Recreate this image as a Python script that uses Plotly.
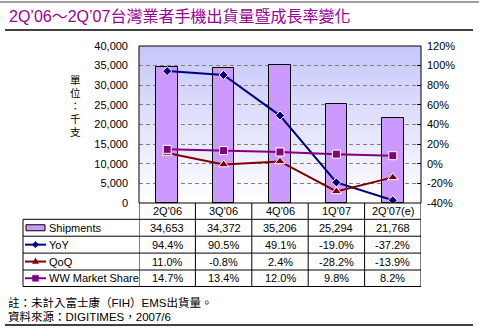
import base64
import struct
import zlib
import plotly.graph_objects as go

# ---- data ----
quarters = ["2Q'06", "3Q'06", "4Q'06", "1Q'07", "2Q'07(e)"]
shipments = [34653, 34372, 35206, 25294, 21768]
yoy = [94.4, 90.5, 49.1, -19.0, -37.2]
qoq = [11.0, -0.8, 2.4, -28.2, -13.9]
ww_share = [14.7, 13.4, 12.0, 9.8, 8.2]
left_ticks = list(range(0, 40001, 5000))
right_ticks = list(range(-40, 121, 20))
right_labels = [f"{v}%" for v in right_ticks]

title_text = "2Q’06～2Q’07台灣業者手機出貨量暨成長率變化"
unit_chars = ["單", "位", "：", "千", "支"]
note_lines = ["註：未計入富士康（FIH）EMS出貨量。", "資料來源：DIGITIMES，2007/6"]

W, H = 479, 330
L, R, T, B = 139, 421, 46, 203
FONT = "Liberation Sans, Arial, Noto Sans CJK TC, sans-serif"

C_BAR = "#cc99ff"
C_YOY = "#000080"
C_QOQ = "#800000"
C_WW = "#800080"


def px(x):
    return (x - L) / (R - L)


def py(y):
    return (B - y) / (B - T)


def gradient_png(top, bottom, n=160):
    """Tiny 1-pixel-wide vertical gradient PNG as a data URI."""
    raw = b""
    for i in range(n):
        t = i / (n - 1)
        rgb = bytes(round(a + (b - a) * t) for a, b in zip(top, bottom))
        raw += b"\x00" + rgb

    def chunk(tag, data):
        c = struct.pack(">I", len(data)) + tag + data
        return c + struct.pack(">I", zlib.crc32(tag + data) & 0xFFFFFFFF)

    png = b"\x89PNG\r\n\x1a\n"
    png += chunk(b"IHDR", struct.pack(">IIBBBBB", 1, n, 8, 2, 0, 0, 0))
    png += chunk(b"IDAT", zlib.compress(raw))
    png += chunk(b"IEND", b"")
    return "data:image/png;base64," + base64.b64encode(png).decode()


fig = go.Figure()
fig.add_trace(go.Bar(x=quarters, y=shipments, width=0.38, marker=dict(color=C_BAR, line=dict(color="black", width=1)),
                     name="Shipments"))
fig.add_trace(go.Scatter(x=quarters, y=yoy, yaxis="y2", mode="lines+markers", name="YoY",
                         line=dict(color=C_YOY, width=2),
                         marker=dict(symbol="diamond", size=7, color=C_YOY, line=dict(color="white", width=1))))
fig.add_trace(go.Scatter(x=quarters, y=qoq, yaxis="y2", mode="lines+markers", name="QoQ",
                         line=dict(color=C_QOQ, width=2),
                         marker=dict(symbol="triangle-up", size=9, color=C_QOQ, line=dict(color="white", width=1))))
fig.add_trace(go.Scatter(x=quarters, y=ww_share, yaxis="y2", mode="lines+markers", name="WW Market Share",
                         line=dict(color=C_WW, width=2),
                         marker=dict(symbol="square", size=8, color=C_WW, line=dict(color="white", width=1))))

src = gradient_png((198, 198, 251), (255, 255, 255))

shapes = []
annotations = []

# header rules
shapes.append(dict(type="line", xref="paper", yref="paper", x0=px(0), x1=px(W), y0=py(2), y1=py(2),
                   line=dict(color="#a0a0a0", width=2)))
for yy in (30, 325):
    shapes.append(dict(type="line", xref="paper", yref="paper", x0=px(5), x1=px(473), y0=py(yy), y1=py(yy),
                       line=dict(color="black", width=1.5)))

# plot frame
shapes.append(dict(type="rect", xref="paper", yref="paper", x0=0, x1=1, y0=0, y1=1,
                   line=dict(color="black", width=1)))

# data table grid
rows = [219.3, 236.2, 253.1, 270.0, 286.5]
for ry in rows:
    shapes.append(dict(type="line", xref="paper", yref="paper", x0=px(23), x1=1, y0=py(ry), y1=py(ry),
                       line=dict(color="black", width=1)))
shapes.append(dict(type="line", xref="paper", yref="paper", x0=px(23), x1=px(23), y0=py(rows[0]), y1=py(rows[-1]),
                   line=dict(color="black", width=1)))
for i in range(len(quarters) + 1):
    shapes.append(dict(type="line", xref="x", yref="paper", x0=i - 0.5, x1=i - 0.5, y0=py(B), y1=py(rows[-1]),
                       line=dict(color="black", width=1)))

# category header
for i, q in enumerate(quarters):
    annotations.append(dict(x=i, y=py(211), xref="x", yref="paper", text=q, showarrow=False,
                            font=dict(size=11, family=FONT, color="black"), xanchor="center", yanchor="middle"))

row_c = [(rows[k] + rows[k + 1]) / 2 for k in range(4)]
table_vals = [
    [f"{v:,}" for v in shipments],
    [f"{v:.1f}%" for v in yoy],
    [f"{v:.1f}%" for v in qoq],
    [f"{v:.1f}%" for v in ww_share],
]
for r, vals in enumerate(table_vals):
    for i, t in enumerate(vals):
        annotations.append(dict(x=i, y=py(row_c[r]), xref="x", yref="paper", text=t, showarrow=False,
                                font=dict(size=11, family=FONT, color="black"), xanchor="center", yanchor="middle"))

# legend keys in the first column
names = ["Shipments", "YoY", "QoQ", "WW Market Share"]
for r, nm in enumerate(names):
    annotations.append(dict(x=px(47), y=py(row_c[r]), xref="paper", yref="paper", text=nm, showarrow=False,
                            font=dict(size=11, family=FONT, color="black"), xanchor="left", yanchor="middle"))

shapes.append(dict(type="rect", xref="paper", yref="paper", x0=px(26), x1=px(45),
                   y0=py(row_c[0] - 3), y1=py(row_c[0] + 3), fillcolor=C_BAR, line=dict(color="black", width=1)))
cx = 35.5
for r, col in ((1, C_YOY), (2, C_QOQ), (3, C_WW)):
    cy = row_c[r]
    shapes.append(dict(type="line", xref="paper", yref="paper", x0=px(25), x1=px(46), y0=py(cy), y1=py(cy),
                       line=dict(color=col, width=2)))


def path(pts):
    return "M " + " L ".join(f"{px(a)},{py(b)}" for a, b in pts) + " Z"


d = 3.2
shapes.append(dict(type="path", xref="paper", yref="paper",
                   path=path([(cx, row_c[1] - d), (cx + d, row_c[1]), (cx, row_c[1] + d), (cx - d, row_c[1])]),
                   fillcolor=C_YOY, line=dict(color=C_YOY, width=0.5)))
shapes.append(dict(type="path", xref="paper", yref="paper",
                   path=path([(cx, row_c[2] - 3.5), (cx + 3, row_c[2] + 2), (cx - 3, row_c[2] + 2)]),
                   fillcolor=C_QOQ, line=dict(color=C_QOQ, width=0.5)))
shapes.append(dict(type="rect", xref="paper", yref="paper", x0=px(cx - 3), x1=px(cx + 3),
                   y0=py(row_c[3] - 3), y1=py(row_c[3] + 3), fillcolor=C_WW, line=dict(color=C_WW, width=0.5)))

# title, unit label, notes
annotations.append(dict(x=px(7), y=py(16), xref="paper", yref="paper", text=title_text, showarrow=False,
                        font=dict(size=16, family=FONT, color="#990099"), xanchor="left", yanchor="middle"))
for ch, yy in zip(unit_chars, (80, 93, 106, 119, 132)):
    annotations.append(dict(x=px(75), y=py(yy), xref="paper", yref="paper", text=ch, borderpad=0,
                            showarrow=False, font=dict(size=10.5, family=FONT, color="black"),
                            xanchor="center", yanchor="middle"))
for line_txt, yy in zip(note_lines, (302.5, 316.5)):
    annotations.append(dict(x=px(7), y=py(yy), xref="paper", yref="paper", text=line_txt, showarrow=False,
                            borderpad=0, font=dict(size=11.5, family=FONT, color="black"),
                            xanchor="left", yanchor="middle"))

fig.update_layout(
    width=W, height=H,
    margin=dict(l=L, r=W - R, t=T, b=H - B, pad=0),
    paper_bgcolor="white", plot_bgcolor="rgba(0,0,0,0)",
    showlegend=False,
    bargap=0,
    xaxis=dict(type="category", range=[-0.5, len(quarters) - 0.5], showticklabels=False, showgrid=False,
               zeroline=False, ticks=""),
    yaxis=dict(range=[0, 40000], tickvals=left_ticks, tickformat=",d", showgrid=True, gridcolor="#808080",
               griddash="4px,3px", gridwidth=1, zeroline=False, ticks="", ticklabelstandoff=10,
               tickfont=dict(size=11, family=FONT, color="black")),
    yaxis2=dict(range=[-40, 120], tickvals=right_ticks, ticktext=right_labels, overlaying="y", side="right",
                showgrid=False, zeroline=False, ticks="inside", ticklen=4, tickcolor="black",
                ticklabelstandoff=5, tickfont=dict(size=11, family=FONT, color="black")),
    images=[dict(source=src, xref="paper", yref="paper", x=0, y=1, sizex=1, sizey=1, sizing="stretch",
                 xanchor="left", yanchor="top", layer="below")],
    shapes=shapes,
    annotations=annotations,
)

fig.write_html("out.html")
